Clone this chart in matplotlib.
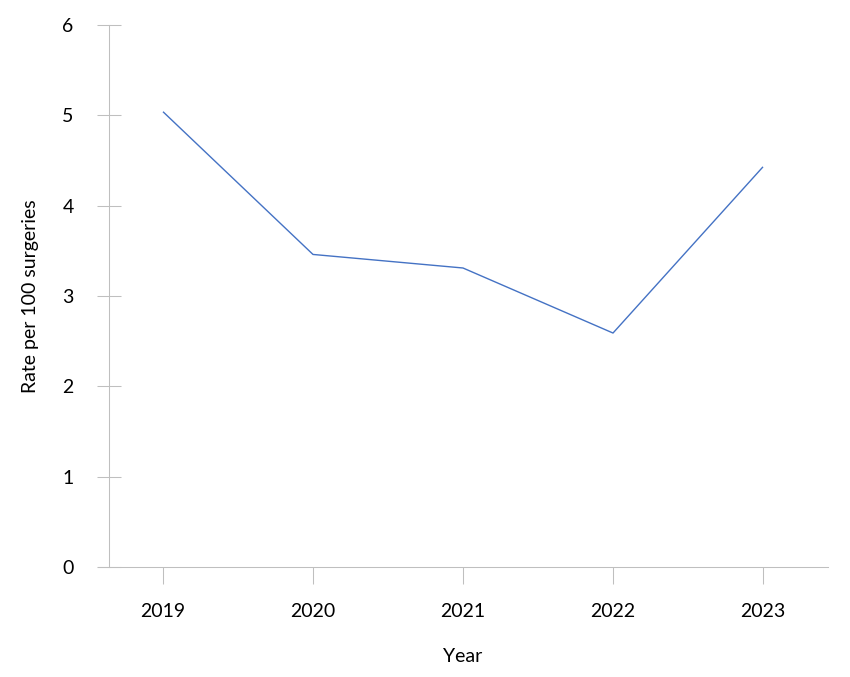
import matplotlib
matplotlib.use("Agg")
import matplotlib.pyplot as plt

# ---- data ----
YEARS = [2019, 2020, 2021, 2022, 2023]
RATE = [5.04, 3.46, 3.31, 2.59, 4.43]
Y_TICKS = [0, 1, 2, 3, 4, 5, 6]

LINE_BLUE = "#4472C4"
AXIS_GREY = "#BFBFBF"
FS = 14

plt.rcParams["font.family"] = ["Lato", "DejaVu Sans"]

W, H = 850, 677
fig = plt.figure(figsize=(W / 100, H / 100), dpi=100)
ax = fig.add_axes([98 / W, (H - 567) / H, (828 - 98) / W, (567 - 25) / H])

ax.plot(YEARS, RATE, color=LINE_BLUE, lw=1.0, solid_capstyle="butt")

ax.set_xlim(2019 - 65 / 150, 2023 + 65 / 150)
ax.set_ylim(0, 6)
ax.set_xticks(YEARS)
ax.set_xticklabels([str(y) for y in YEARS])
ax.set_yticks(Y_TICKS)

for s in ("top", "right"):
    ax.spines[s].set_visible(False)
ax.spines["left"].set_position(("data", 2019 - 54 / 150))
ax.spines["left"].set_bounds(0, 6)
for s in ("left", "bottom"):
    ax.spines[s].set_color(AXIS_GREY)
    ax.spines[s].set_linewidth(0.75)

ax.tick_params(axis="y", direction="inout", length=17, width=0.75,
               color=AXIS_GREY, labelsize=FS, pad=17)
ax.tick_params(axis="x", direction="out", length=12, width=0.75,
               color=AXIS_GREY, labelsize=FS, pad=14)

ax.set_xlabel("Year", fontsize=FS, labelpad=20)
ax.set_ylabel("Rate per 100 surgeries", fontsize=FS, labelpad=17)

fig.savefig("out.png", dpi=100)
